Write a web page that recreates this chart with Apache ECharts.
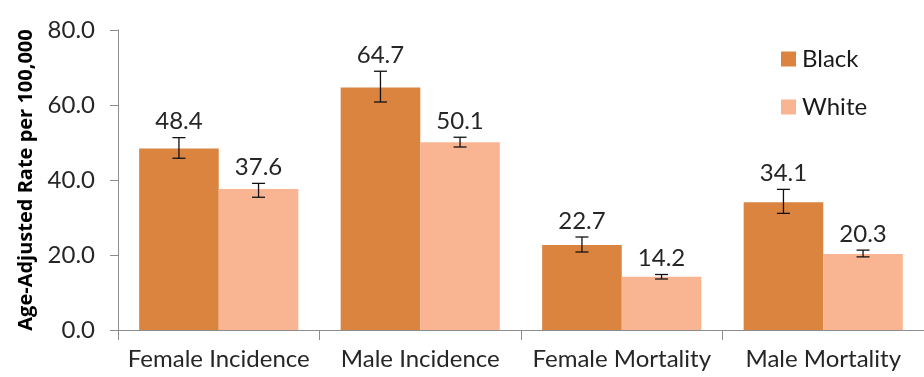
<!DOCTYPE html>
<html>
<head>
<meta charset="utf-8">
<script src="https://cdn.jsdelivr.net/npm/echarts@6/dist/echarts.min.js"></script>
<style>
  html, body { margin: 0; padding: 0; background: #fff; }
  #chart { width: 924px; height: 377px; }
</style>
</head>
<body>
<div id="chart"></div>
<script>
const categories = ["Female Incidence", "Male Incidence", "Female Mortality", "Male Mortality"];
const blackRates = [48.4, 64.7, 22.7, 34.1];
const whiteRates = [37.6, 50.1, 14.2, 20.3];
// confidence interval ends
const blackLow = [45.8, 60.8, 20.8, 31.1];
const blackHigh = [51.3, 69.0, 24.8, 37.5];
const whiteLow = [35.4, 48.8, 13.6, 19.5];
const whiteHigh = [39.1, 51.4, 14.8, 21.3];
const yTicks = [0, 20, 40, 60, 80];

const font = "Lato";
const catGap = 0.21;

function errorSeries(low, high, vals, sign) {
  return {
    type: "custom",
    z: 5,
    silent: true,
    encode: { x: 0, y: [1, 2] },
    data: vals.map((v, i) => [i, low[i], high[i], v]),
    renderItem: function (params, api) {
      const i = api.value(0);
      const lo = api.coord([i, api.value(1)]);
      const hi = api.coord([i, api.value(2)]);
      const band = api.size([1, 0])[0];
      const x = lo[0] + sign * band * (1 - catGap) / 4;
      const cap = 6.5;
      const st = { stroke: "#111", lineWidth: 1.3 };
      return {
        type: "group",
        children: [
          { type: "line", shape: { x1: x, y1: lo[1], x2: x, y2: hi[1] }, style: st },
          { type: "line", shape: { x1: x - cap, y1: lo[1], x2: x + cap, y2: lo[1] }, style: st },
          { type: "line", shape: { x1: x - cap, y1: hi[1], x2: x + cap, y2: hi[1] }, style: st },
          {
            type: "text",
            style: {
              text: api.value(3).toFixed(1),
              x: x,
              y: hi[1] - 4,
              align: "center",
              verticalAlign: "bottom",
              fontSize: 24,
              fontFamily: font,
              fill: "#262626"
            }
          }
        ]
      };
    }
  };
}

const chart = echarts.init(document.getElementById("chart"));
chart.setOption({
  animation: false,
  textStyle: { fontFamily: font },
  grid: { left: 118, right: -6, top: 30, bottom: 47, containLabel: false },
  legend: {
    data: ["Black", "White"],
    orient: "vertical",
    left: 781,
    top: 47,
    padding: 0,
    itemWidth: 15,
    itemHeight: 15,
    itemGap: 24,
    icon: "rect",
    textStyle: { fontSize: 24, lineHeight: 24, fontFamily: font, color: "#1a1a1a", padding: [0, 0, 0, 1] }
  },
  xAxis: {
    type: "category",
    data: categories,
    axisLine: { lineStyle: { color: "#8c8c8c", width: 1 } },
    axisTick: { show: true, length: 10, alignWithLabel: false, lineStyle: { color: "#8c8c8c" } },
    axisLabel: { fontSize: 24, fontFamily: font, color: "#262626", margin: 17, interval: 0 }
  },
  yAxis: {
    type: "value",
    min: yTicks[0],
    max: yTicks[yTicks.length - 1],
    interval: 20,
    name: "Age-Adjusted Rate per 100,000",
    nameLocation: "middle",
    nameGap: 82,
    nameTextStyle: { fontSize: 20, fontWeight: "bold", fontFamily: "Open Sans", color: "#000" },
    axisLine: { show: true, lineStyle: { color: "#8c8c8c", width: 1 } },
    axisTick: { show: true, length: 8, lineStyle: { color: "#8c8c8c" } },
    splitLine: { show: false },
    axisLabel: {
      fontSize: 24,
      fontFamily: font,
      color: "#262626",
      margin: 23,
      formatter: v => v.toFixed(1)
    }
  },
  series: [
    {
      name: "Black",
      type: "bar",
      data: blackRates,
      barGap: "0%",
      barCategoryGap: (catGap * 100) + "%",
      itemStyle: { color: "#DA843F" }
    },
    {
      name: "White",
      type: "bar",
      data: whiteRates,
      barGap: "0%",
      barCategoryGap: (catGap * 100) + "%",
      itemStyle: { color: "#F9B592" }
    },
    errorSeries(blackLow, blackHigh, blackRates, -1),
    errorSeries(whiteLow, whiteHigh, whiteRates, 1)
  ]
});
</script>
</body>
</html>
